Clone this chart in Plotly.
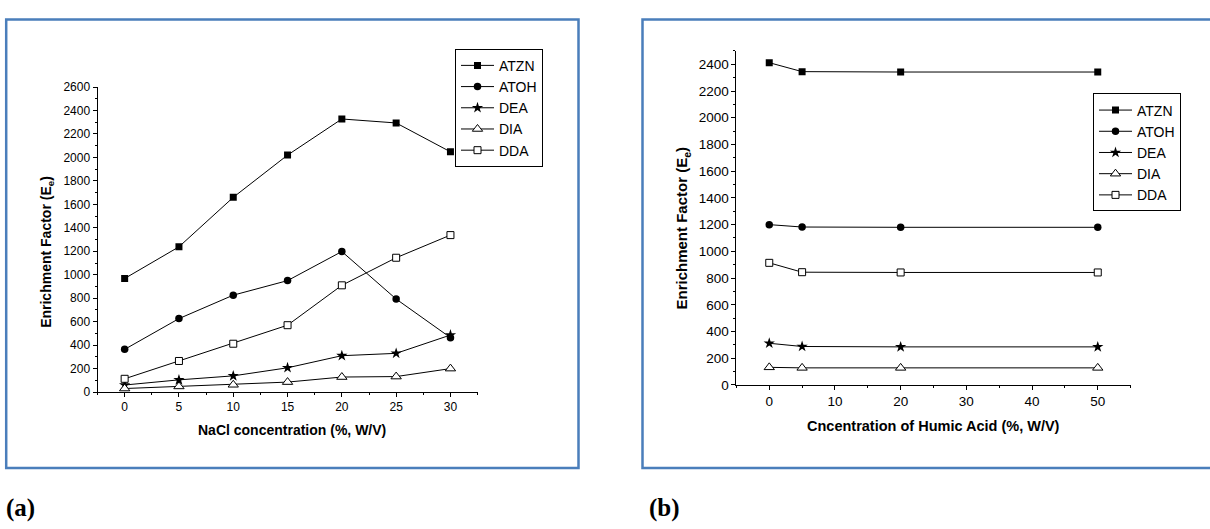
import plotly.graph_objects as go

# ---------------- data ----------------
series_names = ["ATZN", "ATOH", "DEA", "DIA", "DDA"]

nacl_x = [0, 5, 10, 15, 20, 25, 30]
nacl_atzn = [968, 1238, 1660, 2020, 2328, 2294, 2048]
nacl_atoh = [364, 626, 826, 950, 1198, 793, 464]
nacl_dea = [60, 104, 138, 207, 310, 330, 486]
nacl_dia = [30, 48, 62, 85, 128, 132, 200]
nacl_dda = [113, 265, 412, 570, 910, 1145, 1338]

humic_x = [0, 5, 20, 50]
humic_atzn = [2412, 2345, 2342, 2342]
humic_atoh = [1200, 1182, 1180, 1180]
humic_dea = [312, 288, 285, 285]
humic_dia = [132, 128, 128, 128]
humic_dda = [914, 844, 842, 842]

nacl_values = [nacl_atzn, nacl_atoh, nacl_dea, nacl_dia, nacl_dda]
humic_values = [humic_atzn, humic_atoh, humic_dea, humic_dia, humic_dda]

# ---------------- styles ----------------
W, H = 1210, 529
FONT = "Liberation Sans, Arial, sans-serif"
marker_styles = [
    dict(symbol="square", size=7, color="black"),
    dict(symbol="circle", size=7.5, color="black"),
    dict(symbol="star", size=8.5, color="black"),
    dict(symbol="triangle-up", size=9, color="white", line=dict(color="black", width=1)),
    dict(symbol="square", size=7, color="white", line=dict(color="black", width=1)),
]

fig = go.Figure()

for name, vals, mk in zip(series_names, nacl_values, marker_styles):
    fig.add_trace(go.Scatter(
        x=nacl_x, y=vals, name=name, mode="lines+markers",
        line=dict(color="black", width=1), marker=mk,
        xaxis="x", yaxis="y", legend="legend",
    ))

for name, vals, mk in zip(series_names, humic_values, marker_styles):
    fig.add_trace(go.Scatter(
        x=humic_x, y=vals, name=name, mode="lines+markers",
        line=dict(color="black", width=1), marker=mk,
        xaxis="x2", yaxis="y2", legend="legend2",
    ))


def px(v):
    return v / W


def py(v):
    return 1 - v / H


axis_common = dict(
    showline=True, linecolor="black", linewidth=1, mirror=False,
    showgrid=False, zeroline=False, ticks="outside", ticklen=4,
    tickcolor="black", tickwidth=1,
)

fig.update_layout(
    width=W, height=H, autosize=False,
    margin=dict(l=0, r=0, t=0, b=0),
    paper_bgcolor="white", plot_bgcolor="white",
    font=dict(family=FONT, color="black"),
    xaxis=dict(**axis_common, domain=[px(97.5), px(477.6)], range=[-2.5, 32.5],
               tick0=0, dtick=5, anchor="y",
               tickfont=dict(family=FONT, size=12, color="black"),
               minor=dict(ticks="outside", ticklen=2, dtick=2.5, tickcolor="black")),
    yaxis=dict(**axis_common, domain=[py(396.3), py(82.4)], range=[0, 2600],
               tick0=0, dtick=200, anchor="x",
               tickfont=dict(family=FONT, size=12, color="black"),
               minor=dict(ticks="outside", ticklen=2, dtick=100, tickcolor="black")),
    xaxis2=dict(**axis_common, domain=[px(736.4), px(1130.6)], range=[-5, 55],
                tick0=0, dtick=10, anchor="y2",
                tickfont=dict(family=FONT, size=13.5, color="black"),
                minor=dict(ticks="outside", ticklen=2, dtick=5, tickcolor="black")),
    yaxis2=dict(**axis_common, domain=[py(389), py(45.2)], range=[0, 2500],
                tick0=0, dtick=200, anchor="x2",
                tickfont=dict(family=FONT, size=13.5, color="black"),
                minor=dict(ticks="outside", ticklen=2, dtick=100, tickcolor="black")),
    legend=dict(x=px(455), y=py(43), xanchor="left", yanchor="top",
                bgcolor="white", bordercolor="black", borderwidth=1, itemwidth=33,
                font=dict(family=FONT, size=14, color="black"), tracegroupgap=0),
    legend2=dict(x=px(1093), y=py(89), xanchor="left", yanchor="top",
                 bgcolor="white", bordercolor="black", borderwidth=1, itemwidth=33,
                 font=dict(family=FONT, size=14, color="black"), tracegroupgap=0),
    showlegend=True,
)

# blue frames around each panel
frame_color = "#4a7ebb"
fig.add_shape(type="rect", xref="paper", yref="paper",
              x0=px(6.2), x1=px(578.5), y0=py(474.5), y1=py(12.8),
              line=dict(color=frame_color, width=2.5), fillcolor="rgba(0,0,0,0)", layer="below")
fig.add_shape(type="rect", xref="paper", yref="paper",
              x0=px(642.5), x1=px(1215), y0=py(474.5), y1=py(12.8),
              line=dict(color=frame_color, width=2.5), fillcolor="rgba(0,0,0,0)", layer="below")

# axis titles
fig.add_annotation(text="<b>NaCl concentration (%, W/V)</b>", xref="paper", yref="paper",
                   x=px(291.9), y=py(435), xanchor="center", yanchor="middle", showarrow=False,
                   font=dict(family=FONT, size=14, color="black"))
fig.add_annotation(text="<b>Enrichment Factor (E<sub>e</sub>)</b>", xref="paper", yref="paper",
                   x=px(47), y=py(252), xanchor="center", yanchor="middle", showarrow=False,
                   textangle=-90, font=dict(family=FONT, size=14, color="black"))
fig.add_annotation(text="<b>Cncentration of Humic Acid (%, W/V)</b>", xref="paper", yref="paper",
                   x=px(933.8), y=py(431), xanchor="center", yanchor="middle", showarrow=False,
                   font=dict(family=FONT, size=14.5, color="black"))
fig.add_annotation(text="<b>Enrichment Factor (E<sub>e</sub>)</b>", xref="paper", yref="paper",
                   x=px(683), y=py(228), xanchor="center", yanchor="middle", showarrow=False,
                   textangle=-90, font=dict(family=FONT, size=15, color="black"))

# panel labels
fig.add_annotation(text="<b>(a)</b>", xref="paper", yref="paper",
                   x=px(4), y=py(516), xanchor="left", yanchor="middle", showarrow=False,
                   font=dict(family="Liberation Serif, Times New Roman, serif", size=25, color="black"))
fig.add_annotation(text="<b>(b)</b>", xref="paper", yref="paper",
                   x=px(646.5), y=py(516), xanchor="left", yanchor="middle", showarrow=False,
                   font=dict(family="Liberation Serif, Times New Roman, serif", size=25, color="black"))

fig.write_html("out.html")
